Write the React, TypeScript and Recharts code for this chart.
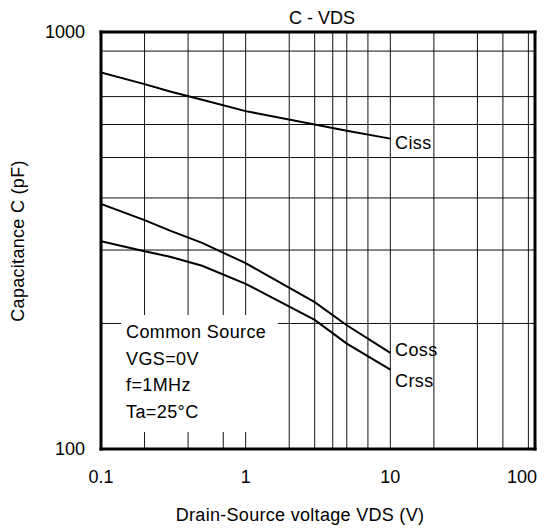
import React from 'react';
import { LineChart, Line, XAxis, YAxis, CartesianGrid } from 'recharts';

// (log-log)
const vds = [0.1, 0.2, 0.3, 0.5, 1, 3, 5, 10];
const ciss = [800, 750, 720, 688, 646, 600, 580, 555];
const coss = [387, 354, 334, 312, 279, 225, 198, 170];
const crss = [315, 298, 289, 275, 249, 204, 179, 155];

const xTicks = [0.1, 1, 10, 100];
const yTicks = [100, 1000];
const xGrid = [0.2, 0.3, 0.4, 0.5, 0.6, 0.7, 0.8, 0.9, 1, 2, 3, 4, 5, 6, 7, 8, 9, 10, 20, 30, 40, 50, 60, 70, 80, 90];
const yGrid = [200, 300, 400, 500, 600, 700, 800, 900];

const conditions = ['Common Source', 'VGS=0V', 'f=1MHz', 'Ta=25°C'];

const data = vds.map((v, i) => ({ vds: v, ciss: ciss[i], coss: coss[i], crss: crss[i] }));

const FONT = '"Liberation Sans", Arial, sans-serif';

// plot box: 101..535 x 32..449
const PLOT = { left: 101, top: 32, width: 434, height: 417 };
const B = 3; // frame thickness

const XTick = (props: any) => {
  const { x, y, payload } = props;
  const shift = payload.value === 100 ? -13 : 0;
  return (
    <text x={x + shift} y={y} dy="0.71em" textAnchor="middle" fontSize={18} fill="#000" fontFamily={FONT}>
      {payload.value}
    </text>
  );
};

export default function App() {
  const { left, top, width, height } = PLOT;
  return (
    <div style={{ position: 'absolute', left: 0, top: 0, width: 552, height: 531, background: '#fff' }}>
      <LineChart width={552} height={531} data={data} margin={{ top, right: 17, bottom: 0, left: 0 }}>
        <CartesianGrid
          stroke="#111"
          strokeWidth={1}
          verticalValues={xGrid}
          horizontalValues={yGrid}
        />
        <XAxis
          dataKey="vds"
          type="number"
          scale="log"
          domain={[0.1, 100]}
          ticks={xTicks}
          allowDataOverflow
          height={82}
          tickLine={false}
          axisLine={false}
          tickSize={0}
          tickMargin={21}
          tick={XTick}
        />
        <YAxis
          type="number"
          scale="log"
          domain={[100, 1000]}
          ticks={yTicks}
          allowDataOverflow
          width={left}
          tickLine={false}
          axisLine={false}
          tickSize={0}
          tickMargin={16}
          tick={{ fontSize: 18, fill: '#000', fontFamily: FONT }}
        />
        <Line dataKey="ciss" type="linear" stroke="#000" strokeWidth={2} dot={false} isAnimationActive={false} />
        <Line dataKey="coss" type="linear" stroke="#000" strokeWidth={2} dot={false} isAnimationActive={false} />
        <Line dataKey="crss" type="linear" stroke="#000" strokeWidth={2} dot={false} isAnimationActive={false} />
        <g fontFamily={FONT} fontSize={18} fill="#000">
          <rect x={121} y={315} width={157} height={117} fill="#fff" />
          <rect x={left - 1.5} y={top - 1.5} width={B} height={height + B} fill="#000" />
          <rect x={left + width - 1.5} y={top - 1.5} width={B} height={height + B} fill="#000" />
          <rect x={left - 1.5} y={top - 1.5} width={width + B} height={B} fill="#000" />
          <rect x={left - 1.5} y={top + height - 1.5} width={width + B} height={B} fill="#000" />
          <text x={322} y={24} textAnchor="middle">C - VDS</text>
          <text x={395} y={149} letterSpacing={0.4}>Ciss</text>
          <text x={395} y={356} letterSpacing={0.4}>Coss</text>
          <text x={395} y={387} letterSpacing={0.4}>Crss</text>
          {conditions.map((t, i) => (
            <text key={t} x={126} y={338 + i * 26.7} letterSpacing={0.4}>{t}</text>
          ))}
          <text x={300} y={521} textAnchor="middle" letterSpacing={0.3}>Drain-Source voltage VDS (V)</text>
          <text x={18} y={241} textAnchor="middle" dominantBaseline="central" transform="rotate(-90, 18, 241)" letterSpacing={0.3}>
            Capacitance C (pF)
          </text>
        </g>
      </LineChart>
    </div>
  );
}
